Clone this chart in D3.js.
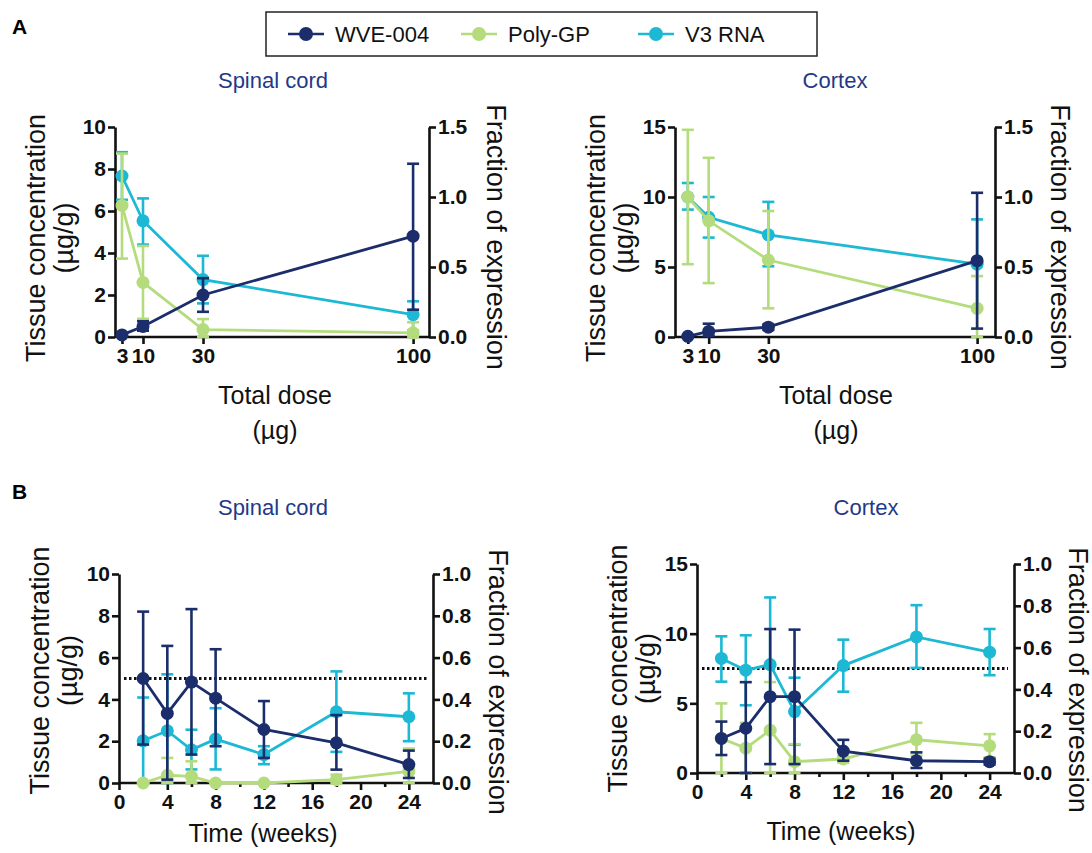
<!DOCTYPE html>
<html><head><meta charset="utf-8">
<script src="https://cdn.jsdelivr.net/npm/d3@7"></script>
<style>
body{margin:0;background:#fff;}
svg{font-family:"Liberation Sans", Arial, Helvetica, sans-serif;}
</style></head><body>
<svg id="c" width="1092" height="853"></svg>
<script>
// ---------- data ----------
const seriesNames = ["WVE-004", "Poly-GP", "V3 RNA"];
const seriesColors = ["#1b2d6b", "#b4dc7c", "#1cb8d4"];

// Panel A: total dose (µg)
const doseA = [3, 10, 30, 100];
const doseTicksA = [3, 10, 30, 100];
// Spinal cord (WVE-004 in µg/g; Poly-GP and V3 RNA as fraction of expression)
const aSpWve   = [0.1, 0.5, 2.0, 4.8];
const aSpWveLo = [0.05, 0.3, 1.2, 1.3];
const aSpWveHi = [0.15, 0.75, 2.8, 8.25];
const aSpPoly   = [0.94, 0.39, 0.053, 0.03];
const aSpPolyLo = [0.56, 0.13, 0, 0];
const aSpPolyHi = [1.31, 0.65, 0.128, 0.105];
const aSpV3   = [1.15, 0.83, 0.41, 0.16];
const aSpV3Lo = [0.98, 0.66, 0.24, 0.045];
const aSpV3Hi = [1.32, 0.99, 0.58, 0.255];
// Cortex
const aCxWve   = [0.05, 0.4, 0.7, 5.45];
const aCxWveLo = [0, 0.1, 0.5, 0.6];
const aCxWveHi = [0.1, 0.95, 0.9, 10.3];
const aCxPoly   = [1.0, 0.83, 0.55, 0.205];
const aCxPolyLo = [0.52, 0.385, 0.205, 0];
const aCxPolyHi = [1.48, 1.28, 0.9, 0.435];
const aCxV3   = [1.0, 0.855, 0.73, 0.52];
const aCxV3Lo = [0.91, 0.71, 0.505, 0.2];
const aCxV3Hi = [1.1, 1.0, 0.965, 0.84];

// Panel B: time (weeks)
const weeksB = [2, 4, 6, 8, 12, 18, 24];
const weekTicksB = [0, 4, 8, 12, 16, 20, 24];
const weekMinorB = [2, 6, 10, 14, 18, 22];
// Spinal cord
const bSpWve   = [5.0, 3.33, 4.83, 4.06, 2.56, 1.92, 0.88];
const bSpWveLo = [1.84, 0.16, 1.36, 1.76, 1.2, 0.64, 0.24];
const bSpWveHi = [8.2, 6.56, 8.32, 6.4, 3.92, 3.25, 1.55];
const bSpPoly   = [0, 0.037, 0.032, 0, 0, 0.016, 0.056];
const bSpPolyLo = [0, 0, 0, 0, 0, 0, 0];
const bSpPolyHi = [0, 0.12, 0.104, 0, 0, 0.04, 0.165];
const bSpV3   = [0.202, 0.25, 0.159, 0.21, 0.136, 0.341, 0.317];
const bSpV3Lo = [0, 0, 0.065, 0.065, 0.09, 0.149, 0.2];
const bSpV3Hi = [0.409, 0.52, 0.255, 0.358, 0.176, 0.534, 0.429];
// Cortex
const bCxWve   = [2.48, 3.21, 5.48, 5.48, 1.57, 0.88, 0.81];
const bCxWveLo = [1.29, 0, 0.64, 0.64, 0.88, 0.36, 0.6];
const bCxWveHi = [3.69, 6.52, 10.33, 10.29, 2.38, 1.48, 1.02];
const bCxPoly   = [0.165, 0.119, 0.205, 0.054, 0.067, 0.159, 0.13];
const bCxPolyLo = [0, 0, 0, 0, 0.05, 0.083, 0.075];
const bCxPolyHi = [0.333, 0.24, 0.435, 0.138, 0.083, 0.24, 0.186];
const bCxV3   = [0.548, 0.492, 0.519, 0.294, 0.514, 0.651, 0.578];
const bCxV3Lo = [0.437, 0.324, 0.2, 0.135, 0.389, 0.503, 0.468];
const bCxV3Hi = [0.654, 0.659, 0.84, 0.456, 0.638, 0.803, 0.689];

const thresholdFraction = 0.5;

// ---------- drawing ----------
const svg = d3.select("#c");
const navyText = "#1f3a88";
const TICKFONT = "21px";

function series(x, m, lo, hi, idx, axis) {
  return {x, m, lo, hi, color: seriesColors[idx], axis};
}

function drawPanel(cfg) {
  const g = svg.append("g");
  const x = d3.scaleLinear().domain(cfg.xDomain).range([cfg.left, cfg.right]);
  const yL = d3.scaleLinear().domain([0, cfg.yLMax]).range([cfg.bottom, cfg.top]);
  const yR = d3.scaleLinear().domain([0, cfg.yRMax]).range([cfg.bottom, cfg.top]);

  const styleAxis = sel => {
    sel.selectAll("path.domain").attr("stroke", "#111").attr("stroke-width", 2.6);
    sel.selectAll(".tick line").attr("stroke", "#111").attr("stroke-width", 2.6);
    sel.selectAll(".tick text").attr("fill", "#111").attr("font-weight", "bold")
      .attr("font-size", TICKFONT).attr("font-family", '"Liberation Sans", Arial, sans-serif');
  };

  // left axis
  const aL = g.append("g").attr("transform", `translate(${cfg.left},0)`)
    .call(d3.axisLeft(yL).tickValues(cfg.yLTicks).tickSize(7).tickSizeOuter(0).tickPadding(2)
      .tickFormat(d3.format("d")));
  styleAxis(aL);
  // right axis
  const aR = g.append("g").attr("transform", `translate(${cfg.right},0)`)
    .call(d3.axisRight(yR).tickValues(cfg.yRTicks).tickSize(7).tickSizeOuter(0).tickPadding(2)
      .tickFormat(d3.format(".1f")));
  styleAxis(aR);
  // bottom axis
  const xAxis = d3.axisBottom(x).tickValues(cfg.xTicks).tickSize(7).tickSizeOuter(0).tickPadding(4)
    .tickFormat(d3.format("d"));
  const aB = g.append("g").attr("transform", `translate(0,${cfg.bottom})`).call(xAxis);
  styleAxis(aB);
  aB.select("path.domain").attr("d", `M${cfg.left},0H${cfg.right}`);
  if (cfg.xMinor) {
    const am = g.append("g").attr("transform", `translate(0,${cfg.bottom})`)
      .call(d3.axisBottom(x).tickValues(cfg.xMinor).tickSize(4).tickFormat(""));
    am.select("path.domain").remove();
    am.selectAll(".tick line").attr("stroke", "#111").attr("stroke-width", 2.6);
  }

  // threshold
  if (cfg.threshold != null) {
    g.append("line")
      .attr("x1", cfg.left + 5).attr("x2", cfg.right - 6)
      .attr("y1", yR(cfg.threshold)).attr("y2", yR(cfg.threshold))
      .attr("stroke", "#111").attr("stroke-width", 2.8).attr("stroke-dasharray", "2.5,2.5");
  }

  const clampY = (y, v) => y(Math.max(0, v));
  cfg.series.forEach(s => {
    const y = s.axis === "L" ? yL : yR;
    const sg = g.append("g");
    // error bars
    s.x.forEach((xv, i) => {
      const px = x(xv);
      const y1 = clampY(y, s.lo[i]), y2 = clampY(y, s.hi[i]);
      sg.append("line").attr("x1", px).attr("x2", px).attr("y1", y1).attr("y2", y2)
        .attr("stroke", s.color).attr("stroke-width", 2.6);
      [y1, y2].forEach(yy => sg.append("line").attr("x1", px - 6).attr("x2", px + 6)
        .attr("y1", yy).attr("y2", yy).attr("stroke", s.color).attr("stroke-width", 2.6));
    });
    const line = d3.line().x((d, i) => x(s.x[i])).y(d => clampY(y, d));
    sg.append("path").datum(s.m).attr("d", line).attr("fill", "none")
      .attr("stroke", s.color).attr("stroke-width", 2.8);
    sg.selectAll("circle").data(s.m).enter().append("circle")
      .attr("cx", (d, i) => x(s.x[i])).attr("cy", d => clampY(y, d)).attr("r", 6.5)
      .attr("fill", s.color);
  });

  // titles
  g.append("text").attr("x", cfg.titleX).attr("y", cfg.titleY).attr("text-anchor", "middle")
    .attr("font-size", "22px").attr("fill", navyText).text(cfg.title);
  const midY = (cfg.top + cfg.bottom) / 2;
  g.append("text").attr("transform", `translate(${cfg.left - 70},${midY + cfg.lTitleDy}) rotate(-90)`)
    .attr("text-anchor", "middle").attr("font-size", "27px").attr("fill", "#111")
    .text("Tissue concentration");
  g.append("text").attr("transform", `translate(${cfg.left - 42},${midY + cfg.lTitleDy}) rotate(-90)`)
    .attr("text-anchor", "middle").attr("font-size", "27px").attr("fill", "#111")
    .text("(\u00b5g/g)");
  g.append("text").attr("transform", `translate(${cfg.right + cfg.rTitleOff},${cfg.rTitleY}) rotate(90)`)
    .attr("text-anchor", "middle").attr("font-size", "27px").attr("fill", "#111")
    .text("Fraction of expression");
  cfg.xTitle.forEach((t, i) => {
    g.append("text").attr("x", cfg.xTitleX).attr("y", cfg.xTitleY + i * 35)
      .attr("text-anchor", "middle").attr("font-size", "25px").attr("fill", "#111").text(t);
  });
}

drawPanel({
  left: 115, right: 429, top: 127, bottom: 337, xDomain: [0.67, 105.3],
  yLMax: 10, yRMax: 1.5, yLTicks: [0, 2, 4, 6, 8, 10], yRTicks: [0, 0.5, 1.0, 1.5],
  xTicks: doseTicksA, title: "Spinal cord", titleX: 273, titleY: 88, lTitleDy: 6,
  rTitleOff: 58, rTitleY: 237, xTitle: ["Total dose", "(\u00b5g)"], xTitleX: 275, xTitleY: 404,
  series: [
    series(doseA, aSpV3, aSpV3Lo, aSpV3Hi, 2, "R"),
    series(doseA, aSpPoly, aSpPolyLo, aSpPolyHi, 1, "R"),
    series(doseA, aSpWve, aSpWveLo, aSpWveHi, 0, "L")
  ]
});
drawPanel({
  left: 675, right: 995, top: 127, bottom: 337, xDomain: [-1.3, 106],
  yLMax: 15, yRMax: 1.5, yLTicks: [0, 5, 10, 15], yRTicks: [0, 0.5, 1.0, 1.5],
  xTicks: doseTicksA, title: "Cortex", titleX: 835, titleY: 88, lTitleDy: 6,
  rTitleOff: 56, rTitleY: 237, xTitle: ["Total dose", "(\u00b5g)"], xTitleX: 836, xTitleY: 404,
  series: [
    series(doseA, aCxV3, aCxV3Lo, aCxV3Hi, 2, "R"),
    series(doseA, aCxPoly, aCxPolyLo, aCxPolyHi, 1, "R"),
    series(doseA, aCxWve, aCxWveLo, aCxWveHi, 0, "L")
  ]
});
drawPanel({
  left: 119, right: 433, top: 574, bottom: 783, xDomain: [0, 26],
  yLMax: 10, yRMax: 1.0, yLTicks: [0, 2, 4, 6, 8, 10], yRTicks: [0, 0.2, 0.4, 0.6, 0.8, 1.0],
  xTicks: weekTicksB, xMinor: weekMinorB, threshold: thresholdFraction,
  title: "Spinal cord", titleX: 273, titleY: 515, lTitleDy: -8,
  rTitleOff: 56, rTitleY: 682, xTitle: ["Time (weeks)"], xTitleX: 263, xTitleY: 842,
  series: [
    series(weeksB, bSpV3, bSpV3Lo, bSpV3Hi, 2, "R"),
    series(weeksB, bSpPoly, bSpPolyLo, bSpPolyHi, 1, "R"),
    series(weeksB, bSpWve, bSpWveLo, bSpWveHi, 0, "L")
  ]
});
drawPanel({
  left: 697, right: 1014, top: 564, bottom: 773, xDomain: [0, 26],
  yLMax: 15, yRMax: 1.0, yLTicks: [0, 5, 10, 15], yRTicks: [0, 0.2, 0.4, 0.6, 0.8, 1.0],
  xTicks: weekTicksB, xMinor: weekMinorB, threshold: thresholdFraction,
  title: "Cortex", titleX: 866, titleY: 515, lTitleDy: 0,
  rTitleOff: 55, rTitleY: 680, xTitle: ["Time (weeks)"], xTitleX: 841, xTitleY: 840,
  series: [
    series(weeksB, bCxV3, bCxV3Lo, bCxV3Hi, 2, "R"),
    series(weeksB, bCxPoly, bCxPolyLo, bCxPolyHi, 1, "R"),
    series(weeksB, bCxWve, bCxWveLo, bCxWveHi, 0, "L")
  ]
});

// panel letters
svg.append("text").attr("x", 12).attr("y", 34).attr("font-size", "21px").attr("font-weight", "bold").text("A");
svg.append("text").attr("x", 12).attr("y", 499).attr("font-size", "21px").attr("font-weight", "bold").text("B");

// legend
const lg = svg.append("g");
lg.append("rect").attr("x", 266).attr("y", 12).attr("width", 551).attr("height", 44)
  .attr("fill", "#fff").attr("stroke", "#222").attr("stroke-width", 1.5);
const legendX = [306, 479, 656];
seriesNames.forEach((n, i) => {
  const cx = legendX[i];
  lg.append("line").attr("x1", cx - 18).attr("x2", cx + 18).attr("y1", 34).attr("y2", 34)
    .attr("stroke", seriesColors[i]).attr("stroke-width", 2.6);
  lg.append("circle").attr("cx", cx).attr("cy", 34).attr("r", 7).attr("fill", seriesColors[i]);
  lg.append("text").attr("x", cx + 29).attr("y", 42).attr("font-size", "22px").attr("fill", "#111").text(n);
});
</script></body></html>
